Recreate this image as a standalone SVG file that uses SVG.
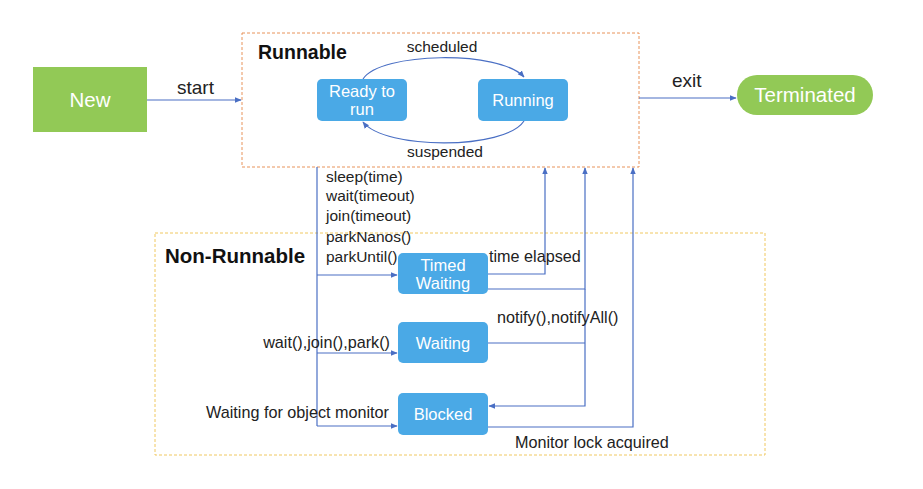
<svg xmlns="http://www.w3.org/2000/svg" width="923" height="489" viewBox="0 0 923 489">
<defs>
<style>
text{font-family:"Liberation Sans","Noto Sans",Arial,sans-serif;fill:#222}
.lbl{font-size:15.5px}
.lb2{font-size:16.2px}
.lb3{font-size:19px}
.title{font-size:19.5px;font-weight:bold;fill:#111}
.nt{font-size:16.5px;fill:#fff;text-anchor:middle}
.big{font-size:20.5px;fill:#fff;text-anchor:middle}
.st{fill:#4aa9e6}
.gr{fill:#92c956}
.ln{fill:none;stroke:#4a6fc4;stroke-width:1.2}
</style>
<marker id="ah" viewBox="0 0 10 10" refX="9" refY="5" markerWidth="7" markerHeight="7" orient="auto" markerUnits="userSpaceOnUse">
<path d="M0,1 L10,5 L0,9 Z" fill="#4a6fc4"/>
</marker>
</defs>
<rect width="923" height="489" fill="#fff"/>
<g id="runnable">
<rect x="242" y="33" width="397" height="134" fill="none" stroke="#e8935a" stroke-width="1" stroke-dasharray="3,2"/>
<text class="title" x="258" y="59">Runnable</text>
</g>
<g id="non-runnable">
<rect x="155" y="233" width="610" height="222" fill="none" stroke="#f0c860" stroke-width="1" stroke-dasharray="3,2"/>
<text class="title" x="165" y="263" style="font-size:20.5px">Non-Runnable</text>
</g>
<g id="connectors">
<path class="ln" d="M147,100 H241" marker-end="url(#ah)"/>
<path class="ln" d="M639,98 H736" marker-end="url(#ah)"/>
<path class="ln" d="M363,79 C380,52 500,50 524,77" marker-end="url(#ah)"/>
<path class="ln" d="M524,121 C505,150 385,150 363,122" marker-end="url(#ah)"/>
<path class="ln" d="M317,167 V426"/>
<path class="ln" d="M317,275 H397" marker-end="url(#ah)"/>
<path class="ln" d="M317,353 H397" marker-end="url(#ah)"/>
<path class="ln" d="M317,426 H397" marker-end="url(#ah)"/>
<path class="ln" d="M488,274 H545 V168" marker-end="url(#ah)"/>
<path class="ln" d="M488,289 H585 V168" marker-end="url(#ah)"/>
<path class="ln" d="M488,343 H585"/>
<path class="ln" d="M585,289 V406 H489" marker-end="url(#ah)"/>
<path class="ln" d="M488,427 H633 V168" marker-end="url(#ah)"/>
</g>
<g id="labels">
<text class="lb3" x="177" y="94">start</text>
<text class="lb3" x="672" y="87">exit</text>
<text class="lbl" x="442" y="52" text-anchor="middle">scheduled</text>
<text class="lbl" x="445" y="157" text-anchor="middle">suspended</text>
<text class="lbl" x="326" y="182">sleep(time)</text>
<text class="lbl" x="326" y="201">wait(timeout)</text>
<text class="lbl" x="326" y="221">join(timeout)</text>
<text class="lbl" x="326" y="242">parkNanos()</text>
<text class="lbl" x="326" y="262">parkUntil()</text>
<text class="lb2" x="489" y="262">time elapsed</text>
<text class="lb2" x="497" y="323">notify(),notifyAll()</text>
<text class="lb2" x="390" y="348" text-anchor="end">wait(),join(),park()</text>
<text class="lb2" x="389" y="418" text-anchor="end">Waiting for object monitor</text>
<text class="lb2" x="515" y="448">Monitor lock acquired</text>
</g>
<g id="new">
<rect class="gr" x="33" y="67" width="114" height="65"/>
<text class="big" x="90" y="107">New</text>
</g>
<g id="terminated">
<rect class="gr" x="737" y="75" width="136" height="40" rx="20"/>
<text class="big" x="805" y="102">Terminated</text>
</g>
<g id="ready">
<rect class="st" x="317" y="79" width="90" height="42" rx="5"/>
<text class="nt" x="362" y="97">Ready to</text>
<text class="nt" x="362" y="115">run</text>
</g>
<g id="running">
<rect class="st" x="478" y="79" width="90" height="42" rx="5"/>
<text class="nt" x="523" y="106">Running</text>
</g>
<g id="timed-waiting">
<rect class="st" x="398" y="253" width="90" height="41" rx="5"/>
<text class="nt" x="443" y="271">Timed</text>
<text class="nt" x="443" y="289">Waiting</text>
</g>
<g id="waiting">
<rect class="st" x="398" y="322" width="90" height="41" rx="5"/>
<text class="nt" x="443" y="349">Waiting</text>
</g>
<g id="blocked">
<rect class="st" x="398" y="393" width="90" height="42" rx="5"/>
<text class="nt" x="443" y="420">Blocked</text>
</g>
</svg>
